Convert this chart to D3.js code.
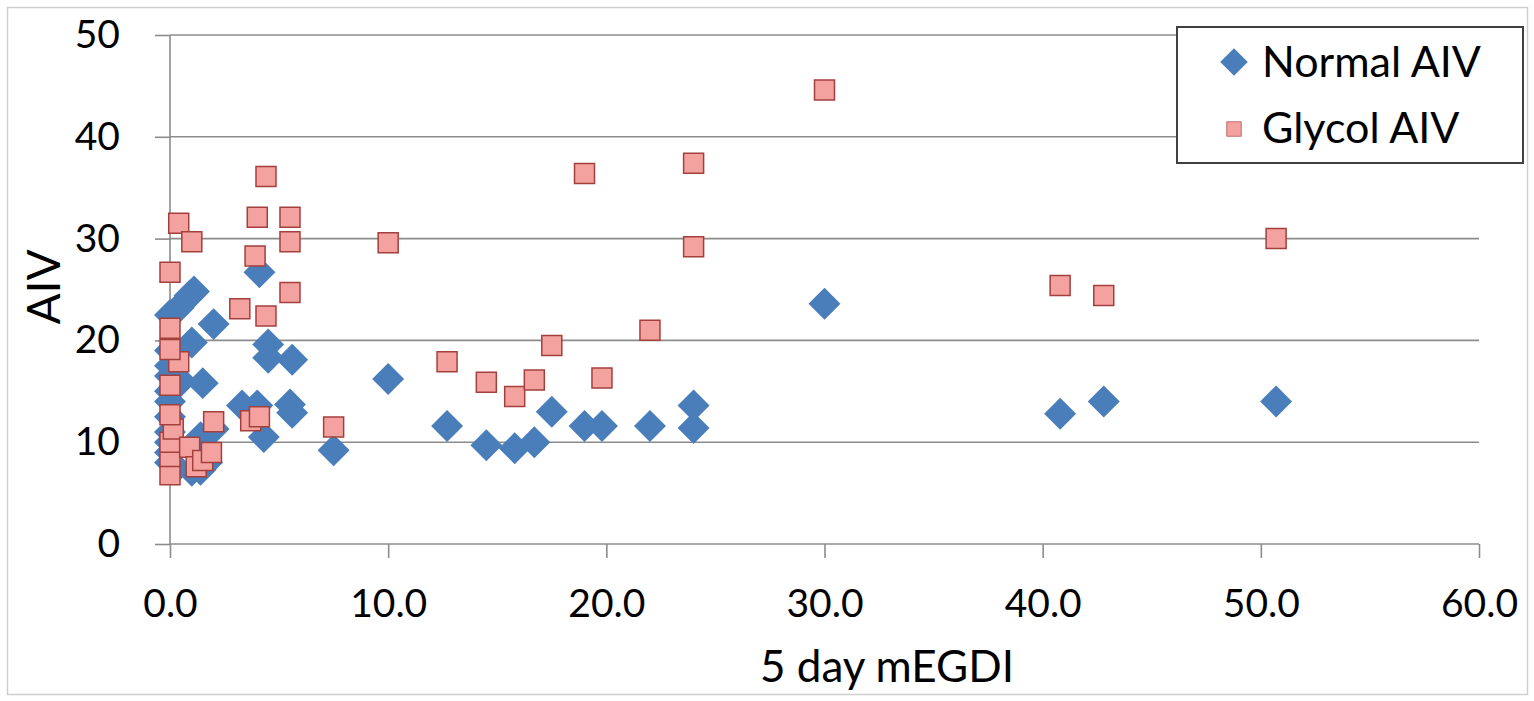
<!DOCTYPE html>
<html>
<head>
<meta charset="utf-8">
<script src="https://cdn.jsdelivr.net/npm/d3@7"></script>
<style>
  body { margin: 0; background: #fff; }
  text { font-family: Lato, "Open Sans", sans-serif; fill: #000; }
</style>
</head>
<body>
<div id="chart"></div>
<script>
// series values, [mEGDI, AIV]
var normalX = [0.0, 0.0, 0.0, 0.0, 0.0, 0.0, 0.0, 0.0, 0.0, 0.0, 0.0,
  0.3, 0.4, 0.5, 0.9, 1.0, 1.1, 1.0, 1.5, 1.4, 1.4, 2.0, 2.0, 1.7, 1.2,
  3.3, 4.0, 4.1, 4.3, 4.5, 4.5, 5.6, 5.5, 5.6,
  7.5, 10.0, 12.7, 14.5, 15.8, 16.7, 17.5, 19.0, 19.8, 22.0, 24.0, 24.0, 30.0, 40.8, 42.8, 50.7];
var normalY = [8.0, 9.0, 10.0, 11.0, 12.5, 14.0, 15.0, 16.5, 17.5, 19.0, 22.5,
  7.5, 23.2, 16.0, 24.4, 19.8, 24.8, 7.2, 15.8, 7.3, 10.5, 21.6, 11.3, 8.0, 9.0,
  13.6, 13.6, 26.7, 10.5, 19.6, 18.3, 18.1, 13.7, 12.9,
  9.2, 16.2, 11.6, 9.7, 9.4, 10.0, 13.0, 11.6, 11.6, 11.6, 13.6, 11.4, 23.6, 12.8, 14.0, 14.0];

var glycolX = [0.0, 0.0, 0.0, 0.15, 0.0, 0.0, 0.4, 0.0, 0.0, 0.0, 0.4, 1.0,
  0.9, 1.2, 1.5, 1.9, 2.0,
  3.2, 3.7, 4.1, 3.9, 4.0, 4.4, 4.4, 5.5, 5.5, 5.5,
  7.5, 10.0, 12.7, 14.5, 15.8, 16.7, 17.5, 19.0, 19.8, 22.0, 24.0, 24.0, 30.0, 40.8, 42.8, 50.7];
var glycolY = [6.8, 8.6, 10.0, 11.3, 12.7, 15.6, 17.9, 19.1, 21.2, 26.7, 31.5, 29.7,
  9.5, 7.6, 8.2, 9.0, 12.0,
  23.1, 12.1, 12.5, 28.3, 32.1, 36.1, 22.4, 32.1, 29.7, 24.7,
  11.5, 29.6, 17.9, 15.9, 14.5, 16.1, 19.5, 36.4, 16.3, 21.0, 37.4, 29.2, 44.6, 25.4, 24.4, 30.0];

var xTicks = [0, 10, 20, 30, 40, 50, 60];
var yTicks = [0, 10, 20, 30, 40, 50];
var seriesNames = ["Normal AIV", "Glycol AIV"];

var W = 1534, H = 701;
var margin = {top: 35, right: 55, bottom: 157, left: 170};

var svg = d3.select("#chart").append("svg")
  .attr("width", W).attr("height", H);

// outer frame
svg.append("rect")
  .attr("x", 7.5).attr("y", 7.5)
  .attr("width", 1520).attr("height", 687)
  .attr("fill", "#fff").attr("stroke", "#cfcfcf").attr("stroke-width", 1.5);

var x = d3.scaleLinear().domain([0, 60]).range([margin.left, W - margin.right]);
var y = d3.scaleLinear().domain([0, 50]).range([H - margin.bottom, margin.top]);

// horizontal gridlines
svg.append("g").selectAll("line")
  .data(yTicks.filter(d => d > 0))
  .join("line")
  .attr("x1", x(0)).attr("x2", x(60))
  .attr("y1", d => y(d)).attr("y2", d => y(d))
  .attr("stroke", "#8c8c8c").attr("stroke-width", 1.6);

// y axis
var yAxis = svg.append("g")
  .attr("transform", "translate(" + x(0) + ",0)")
  .call(d3.axisLeft(y).tickValues(yTicks).tickSize(15).tickPadding(35).tickFormat(d3.format("d")));

// x axis
var xAxis = svg.append("g")
  .attr("transform", "translate(0," + y(0) + ")")
  .call(d3.axisBottom(x).tickValues(xTicks).tickSize(14).tickPadding(31).tickFormat(d3.format(".1f")));

[yAxis, xAxis].forEach(function(a) {
  a.select(".domain").attr("stroke", "#8c8c8c").attr("stroke-width", 1.6);
  a.selectAll(".tick line").attr("stroke", "#8c8c8c").attr("stroke-width", 1.6);
  a.selectAll(".tick text").style("font-size", "39px").style("font-family", "Lato, sans-serif");
});
xAxis.select(".domain").attr("d", "M" + x(0) + ",0H" + x(60));
yAxis.select(".domain").attr("d", "M0," + y(50) + "V" + y(0));

// axis titles
svg.append("text")
  .attr("x", 887).attr("y", 682)
  .attr("text-anchor", "middle")
  .style("font-size", "44px")
  .text("5 day mEGDI");

svg.append("text")
  .attr("transform", "translate(60,287) rotate(-90)")
  .attr("text-anchor", "middle")
  .style("font-size", "46px")
  .text("AIV");

var diamond = d3.symbol(d3.symbolSquare, 510)();
var square = d3.symbol(d3.symbolSquare, 400)();

// normal series (drawn first)
svg.append("g").selectAll("path")
  .data(d3.range(normalX.length))
  .join("path")
  .attr("d", diamond)
  .attr("transform", i => "translate(" + x(normalX[i]) + "," + y(normalY[i]) + ") rotate(45)")
  .attr("fill", "#4a7ebb");

// glycol series on top
svg.append("g").selectAll("path")
  .data(d3.range(glycolX.length))
  .join("path")
  .attr("d", square)
  .attr("transform", i => "translate(" + x(glycolX[i]) + "," + y(glycolY[i]) + ")")
  .attr("fill", "#f3a2a0")
  .attr("stroke", "#a3403d")
  .attr("stroke-width", 1.5);

// legend
var legend = svg.append("g");
legend.append("rect")
  .attr("x", 1177).attr("y", 27)
  .attr("width", 346).attr("height", 136)
  .attr("fill", "#fff").attr("stroke", "#404040").attr("stroke-width", 2);

legend.append("path")
  .attr("d", d3.symbol(d3.symbolSquare, 380)())
  .attr("transform", "translate(1234,62) rotate(45)")
  .attr("fill", "#4a7ebb");
legend.append("path")
  .attr("d", d3.symbol(d3.symbolSquare, 210)())
  .attr("transform", "translate(1234,129)")
  .attr("fill", "#f3a2a0").attr("stroke", "#c07070").attr("stroke-width", 1);

legend.selectAll("text.lbl")
  .data(seriesNames)
  .join("text")
  .attr("class", "lbl")
  .attr("x", 1262)
  .attr("y", (d, i) => 77 + i * 66)
  .style("font-size", "43px")
  .text(d => d);
</script>
</body>
</html>
